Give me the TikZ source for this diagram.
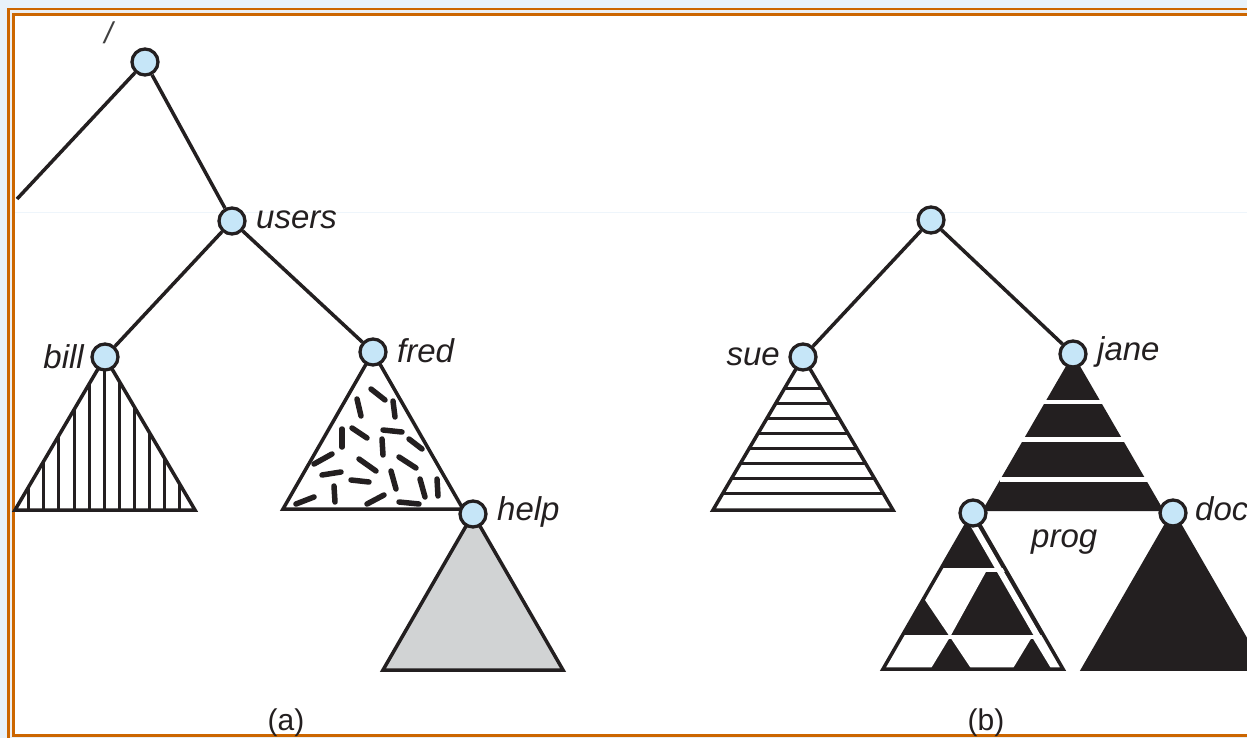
\documentclass[tikz,border=0pt]{standalone}
\usepackage{fontspec}
\setmainfont{Liberation Sans}
\usetikzlibrary{calc}
\definecolor{pagebg}{RGB}{232,242,250}
\definecolor{frameorange}{RGB}{204,102,0}
\definecolor{framegap}{RGB}{236,238,240}
\definecolor{faintline}{RGB}{238,245,251}
\definecolor{nodeblue}{RGB}{198,230,248}
\definecolor{helpgray}{RGB}{209,211,212}
\definecolor{ink}{RGB}{35,31,32}
\tikzset{
	dirnode/.style={circle, draw=ink, fill=nodeblue, line width=3.3pt, minimum size=26pt, inner sep=0pt},
	branch/.style={draw=ink, line width=3.5pt},
	subtree/.style={draw=ink, line width=3.5pt, line join=miter},
	hatch/.style={draw=ink, line width=3pt},
	blob/.style={draw=ink, line width=5.5pt, line cap=round},
	dirname/.style={font=\fontsize{33}{36}\selectfont\itshape, text=ink, inner sep=0pt},
	caption/.style={font=\fontsize{30}{34}\selectfont, text=ink, inner sep=0pt}
}

\begin{document}
\begin{tikzpicture}[x=1pt,y=-1pt]
	%%%%% FRAME %%%%%
	\useasboundingbox (0,0) rectangle (1247,738);
	\fill[pagebg] (0,0) rectangle (1247,738);
	\fill[framegap] (8.5,9) rectangle (1300,741);
	\draw[frameorange, line width=2.6pt] (8.5,9) rectangle (1300,741);
	\draw[frameorange, line width=2.6pt, fill=white] (13.7,14.5) rectangle (1295,735.5);
	\draw[faintline, line width=0.8pt] (15,212) -- (1247,212);
	
	%%%%% (a) SUBTREES %%%%%
	\begin{scope}
		\clip (105,357) -- (15,510) -- (195,510) -- cycle;
		\foreach \i in {0,...,10}
			\draw[hatch] ({28.7+15.1*\i},340) -- ++(0,180);
	\end{scope}
	\draw[subtree] (105,357) -- (15,510) -- (195,510) -- cycle;
	
	\draw[subtree, fill=white] (373,352) -- (283,509) -- (463,509) -- cycle;
	\foreach \xa/\ya/\xb/\yb in {371/389/385/400, 357/399/361/416, 393/401/395/417,
		342/429/342/447, 352/428/367/438, 383/430/402/432, 409/439/422/449,
		382/439/383/455, 314/464/332/454, 359/459/376/471, 399/457/416/468,
		322/475/341/472, 351/480/369/482, 391/471/396/489, 420/479/425/497,
		437/479/438/496, 334/486/335/502, 296/504/314/497, 367/504/384/495,
		399/502/419/504}
		\draw[blob] (\xa,\ya) -- (\xb,\yb);
	
	\draw[subtree, fill=helpgray] (473,514) -- (383,670) -- (563,670) -- cycle;
	
	%%%%% (b) SUBTREES %%%%%
	\begin{scope}
		\clip (803,357) -- (713,510) -- (893,510) -- cycle;
		\foreach \i in {0,...,7}
			\draw[hatch] (700,{388+15*\i}) -- ++(210,0);
	\end{scope}
	\draw[subtree] (803,357) -- (713,510) -- (893,510) -- cycle;
	
	\fill[ink] (1073,354) -- (982,511) -- (1164,511) -- cycle;
	\fill[white] (1000,400) rectangle (1150,404);
	\fill[white] (1000,437) rectangle (1150,441.5);
	\fill[white] (1000,476.5) rectangle (1150,481.5);
	
	\begin{scope}
		\clip (973,513) -- (883,669) -- (1063,669) -- cycle;
		\fill[ink] (973,513) -- (883,669) -- (1063,669) -- cycle;
		\fill[white] (870,568) rectangle (1080,572);
		\fill[white] (870,635) rectangle (1080,639);
		\fill[white] (938,570) -- (987,570) -- (950,637) -- (925,600) -- cycle;
		\fill[white] (870,637) -- (950,637) -- (930,670) -- (870,670) -- cycle;
		\fill[white] (950,637) -- (1032,637) -- (1012,670) -- (972,670) -- cycle;
		\fill[white] (1032,637) -- (1080,637) -- (1080,670) -- (1052,670) -- cycle;
		\fill[white] (970,513) -- (1060,669) -- (1053,669) -- (963,513) -- cycle;
	\end{scope}
	\draw[subtree] (973,513) -- (883,669) -- (1063,669) -- cycle;
	
	\draw[subtree, fill=ink] (1173,513) -- (1083,669) -- (1263,669) -- cycle;
	
	%%%%% NODES %%%%%
	\node[dirnode] (root) at (145,62) {};
	\node[dirnode] (users) at (232,221) {};
	\node[dirnode] (bill) at (105,357) {};
	\node[dirnode] (fred) at (373,352) {};
	\node[dirnode] (help) at (473,514) {};
	
	\node[dirnode] (broot) at (931,220) {};
	\node[dirnode] (sue) at (803,357) {};
	\node[dirnode] (jane) at (1073,354) {};
	\node[dirnode] (prog) at (973,513) {};
	\node[dirnode] (doc) at (1173,513) {};
	
	\coordinate (cut) at (17,199);
	
	\draw[branch] (root) -- (cut);
	\draw[branch] (root) -- (users);
	\draw[branch] (users) -- (bill);
	\draw[branch] (users) -- (fred);
	\draw[branch] (broot) -- (sue);
	\draw[branch] (broot) -- (jane);
	
	%%%%% LABELS %%%%%
	\node[dirname, font=\fontsize{30}{32}\selectfont\itshape, text=black!75] (l-root) at (108.5,32.5) {/};
	\node[dirname, anchor=base west] (l-users) at (256,228) {users};
	\node[dirname, anchor=base east] (l-bill) at (84,368) {bill};
	\node[dirname, anchor=base west] (l-fred) at (397,362) {fred};
	\node[dirname, anchor=base west] (l-help) at (497,520) {help};
	\node[dirname, anchor=base east] (l-sue) at (780,365) {sue};
	\node[dirname, anchor=base west] (l-jane) at (1097,360) {jane};
	\node[dirname, anchor=base west] (l-prog) at (1031,547) {prog};
	\node[dirname, anchor=base west] (l-doc) at (1195,520) {doc};
	
	\node[caption, anchor=base] (cap-a) at (286,730) {(a)};
	\node[caption, anchor=base] (cap-b) at (986,730) {(b)};
\end{tikzpicture}
\end{document}
